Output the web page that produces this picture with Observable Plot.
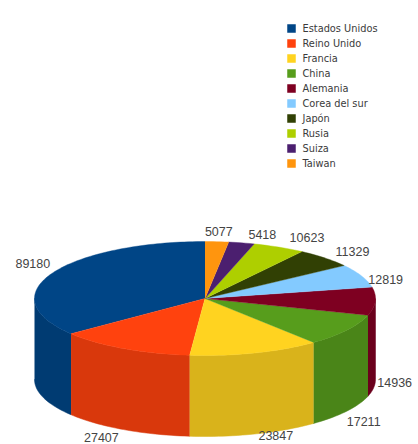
<!DOCTYPE html>
<html lang="es">
<head>
<meta charset="utf-8">
<script src="https://cdn.jsdelivr.net/npm/d3@7"></script>
<script src="https://cdn.jsdelivr.net/npm/@observablehq/plot@0.6"></script>
<style>
  html, body { margin: 0; padding: 0; background: #fff; overflow: hidden; }
  svg { display: block; }
</style>
</head>
<body>
<script>
const countries = ["Estados Unidos", "Reino Unido", "Francia", "China", "Alemania",
  "Corea del sur", "Japón", "Rusia", "Suiza", "Taiwan"];
const amounts = [89180, 27407, 23847, 17211, 14936, 12819, 11329, 10623, 5418, 5077];
const palette = ["#004586", "#ff420e", "#ffd320", "#579d1c", "#7e0021",
  "#83caff", "#314004", "#aecf00", "#4b1f6f", "#ff950e"];

// Hand adjustment of each value label away from its rim anchor, in pixels.
const labelShiftX = [-2, -3, 4, 0, 2, 7, 11, 11, 7, 2];
const labelShiftY = [-5, 4, -3, 6, 4, 8, -2, -5, -4, -6];

const colorScale = {domain: countries, range: palette};
const width = 418;

// Pie geometry in pie units: 1 x unit is the horizontal radius, 1 y unit the vertical radius.
const radiusX = 170.5, radiusY = 57, wallDepth = 81 / radiusY;
const centerX = 204.5, centerY = 108, pieHeight = 254;
const rad = Math.PI / 180;

// The tilted camera compresses the far-left part of the disc: share angle to drawn angle.
const viewAngle = (deg) => deg + 10 * (Math.cos((deg + 20) * rad) - Math.cos(20 * rad));
const rimX = (deg) => -Math.sin(deg * rad);
const rimY = (deg) => -Math.cos(deg * rad);

const total = d3.sum(amounts);
let running = 0;
const slices = countries.map((country, i) => {
  const from = running / total * 360;
  running += amounts[i];
  const to = running / total * 360;
  return {country, amount: amounts[i], from, to, mid: viewAngle((from + to) / 2)};
});

const topPoints = [];
const wallPoints = [];
for (const s of slices) {
  const steps = Math.ceil((s.to - s.from) / 1.5);
  const arc = d3.range(steps + 1).map((k) => viewAngle(s.from + (s.to - s.from) * k / steps));
  topPoints.push({country: s.country, x: 0, y: 0});
  for (const a of arc) topPoints.push({country: s.country, x: rimX(a), y: rimY(a)});

  // Only the part of the rim that faces the viewer gets a wall.
  const front = arc.filter((a) => a >= 90 && a <= 270);
  if (arc[0] < 90 && arc[arc.length - 1] > 90) front.unshift(90);
  if (arc[0] < 270 && arc[arc.length - 1] > 270) front.push(270);
  if (front.length > 1) {
    const c = d3.rgb(palette[countries.indexOf(s.country)]);
    const shade = d3.rgb(c.r * 0.85, c.g * 0.85, c.b * 0.85).formatHex();
    for (const a of front) wallPoints.push({country: s.country, shade, x: rimX(a), y: rimY(a)});
    for (const a of front.slice().reverse()) wallPoints.push({country: s.country, shade, x: rimX(a), y: rimY(a) + wallDepth});
  }
}

// Value labels hang off the rim, outside the disc, on the side their slice faces.
const valueLabels = slices.map((s, i) => {
  const sx = rimX(s.mid), sy = rimY(s.mid);
  const isFront = sy > 0;
  const sideways = Math.abs(sy) < 0.3;
  return {
    text: String(s.amount),
    x: sx + labelShiftX[i] / radiusX,
    y: sy + (isFront ? wallDepth : 0) + (sideways ? -0.06 : 0) + labelShiftY[i] / radiusY,
    textAnchor: Math.abs(sx) < 0.15 ? "middle" : sx > 0 ? "start" : "end",
    lineAnchor: sideways ? "middle" : isFront ? "top" : "bottom"
  };
});

const labelMark = (anchor, line) => Plot.text(
  valueLabels.filter((d) => d.textAnchor === anchor && d.lineAnchor === line),
  {x: "x", y: "y", text: "text", textAnchor: anchor, lineAnchor: line,
   fontSize: 12.5, fontFamily: "Liberation Sans", fill: "#444"}
);

const legend = Plot.plot({
  width, height: 190, margin: 0,
  x: {axis: null, domain: [0, 1], range: [291, 418]},
  y: {axis: null, type: "point", domain: countries, range: [20, 170]},
  color: colorScale,
  marks: [
    Plot.dot(countries, {y: (d) => d, x: () => 0, symbol: "square", r: 4.8, fill: (d) => d, stroke: "none"}),
    Plot.text(countries, {y: (d) => d, x: () => 0, text: (d) => d, dx: 11, textAnchor: "start",
      fontSize: 9.8, fontFamily: "DejaVu Sans", fill: "#3a3a3a"})
  ]
});

const pie = Plot.plot({
  width, height: pieHeight, margin: 0,
  x: {axis: null, domain: [-centerX / radiusX, (width - centerX) / radiusX], range: [0, width]},
  y: {axis: null, domain: [-centerY / radiusY, (pieHeight - centerY) / radiusY], range: [0, pieHeight]},
  color: colorScale,
  marks: [
    Plot.line(wallPoints, {x: "x", y: "y", z: "country", curve: "linear",
      fill: {value: "shade", scale: null}, stroke: {value: "shade", scale: null}, strokeWidth: 0.5}),
    Plot.line(topPoints, {x: "x", y: "y", z: "country", curve: "linear",
      fill: "country", stroke: "country", strokeWidth: 0.4}),
    ...["start", "middle", "end"].flatMap((a) => ["top", "middle", "bottom"].map((l) => labelMark(a, l)))
  ]
});

document.body.append(legend, pie);
</script>
</body>
</html>
